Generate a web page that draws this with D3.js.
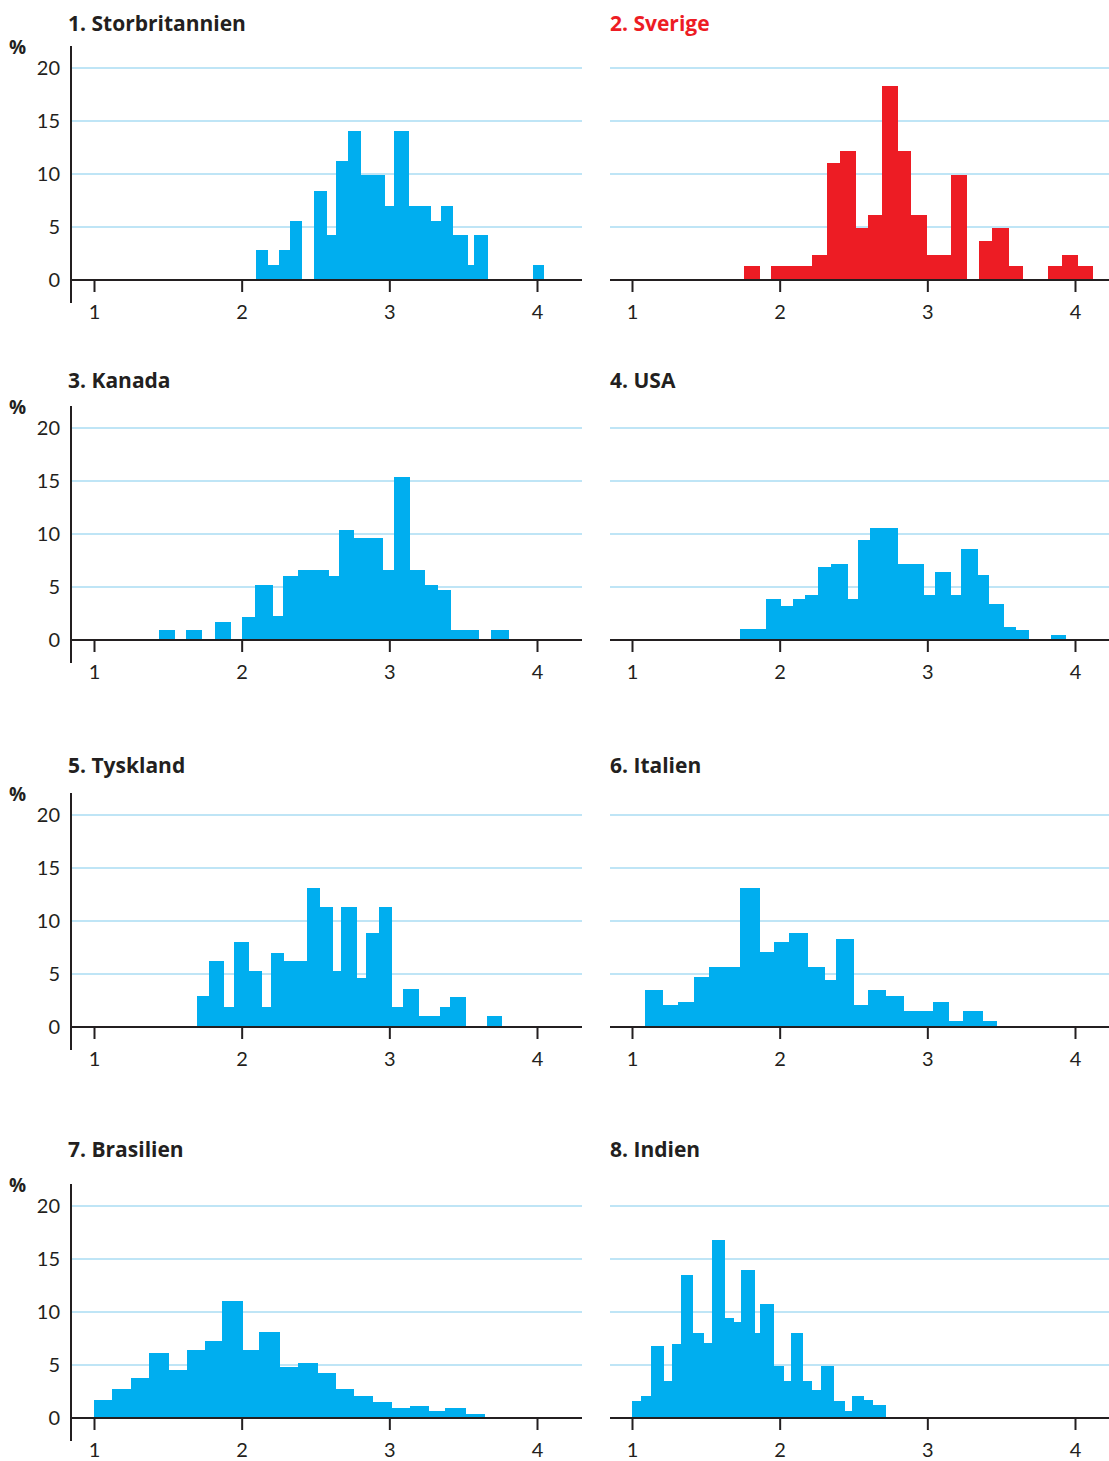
<!DOCTYPE html>
<html>
<head>
<meta charset="utf-8">
<script src="https://cdn.jsdelivr.net/npm/d3@7"></script>
<style>
	body { margin: 0; background: #fff; }
	svg { display: block; font-family: Lato, "Open Sans", sans-serif; }
</style>
</head>
<body>
<svg id="chart" width="1109" height="1461"></svg>
<script>
"use strict";

// each bar: [from, to, percent]
const storbritannien = [
	[2.10, 2.18, 2.8], [2.18, 2.25, 1.4], [2.25, 2.33, 2.8], [2.33, 2.41, 5.6],
	[2.49, 2.58, 8.4], [2.58, 2.64, 4.2], [2.64, 2.72, 11.2], [2.72, 2.81, 14.1],
	[2.81, 2.97, 9.9], [2.97, 3.03, 7.0], [3.03, 3.13, 14.1], [3.13, 3.28, 7.0],
	[3.28, 3.35, 5.6], [3.35, 3.43, 7.0], [3.43, 3.53, 4.2], [3.53, 3.57, 1.4],
	[3.57, 3.67, 4.2], [3.97, 4.05, 1.4],
];
const sverige = [
	[1.76, 1.87, 1.3], [1.94, 2.22, 1.3], [2.22, 2.32, 2.4], [2.32, 2.41, 11.0],
	[2.41, 2.52, 12.2], [2.52, 2.60, 4.9], [2.60, 2.69, 6.1], [2.69, 2.80, 18.3],
	[2.80, 2.89, 12.2], [2.89, 3.00, 6.1], [3.00, 3.16, 2.4], [3.16, 3.27, 9.9],
	[3.35, 3.44, 3.7], [3.44, 3.55, 4.9], [3.55, 3.65, 1.3], [3.82, 3.91, 1.3],
	[3.91, 4.02, 2.4], [4.02, 4.12, 1.3],
];
const kanada = [
	[1.44, 1.55, 0.9], [1.62, 1.73, 0.9], [1.82, 1.93, 1.7], [2.00, 2.09, 2.2],
	[2.09, 2.21, 5.2], [2.21, 2.28, 2.3], [2.28, 2.38, 6.0], [2.38, 2.59, 6.6],
	[2.59, 2.66, 6.0], [2.66, 2.76, 10.4], [2.76, 2.96, 9.6], [2.96, 3.03, 6.6],
	[3.03, 3.14, 15.4], [3.14, 3.24, 6.6], [3.24, 3.33, 5.2], [3.33, 3.42, 4.7],
	[3.42, 3.61, 0.9], [3.69, 3.81, 0.9],
];
const usa = [
	[1.73, 1.91, 1.0], [1.91, 2.01, 3.9], [2.01, 2.09, 3.2], [2.09, 2.17, 3.9],
	[2.17, 2.26, 4.2], [2.26, 2.35, 6.9], [2.35, 2.46, 7.2], [2.46, 2.53, 3.9],
	[2.53, 2.61, 9.4], [2.61, 2.80, 10.6], [2.80, 2.98, 7.2], [2.98, 3.05, 4.2],
	[3.05, 3.16, 6.4], [3.16, 3.23, 4.2], [3.23, 3.34, 8.6], [3.34, 3.42, 6.1],
	[3.42, 3.52, 3.4], [3.52, 3.60, 1.2], [3.60, 3.69, 0.9], [3.84, 3.94, 0.5],
];
const tyskland = [
	[1.70, 1.78, 2.9], [1.78, 1.88, 6.2], [1.88, 1.95, 1.9], [1.95, 2.05, 8.0],
	[2.05, 2.14, 5.3], [2.14, 2.20, 1.9], [2.20, 2.29, 7.0], [2.29, 2.44, 6.2],
	[2.44, 2.53, 13.1], [2.53, 2.62, 11.3], [2.62, 2.67, 5.3], [2.67, 2.78, 11.3],
	[2.78, 2.84, 4.6], [2.84, 2.93, 8.9], [2.93, 3.02, 11.3], [3.02, 3.09, 1.9],
	[3.09, 3.20, 3.6], [3.20, 3.34, 1.0], [3.34, 3.41, 1.9], [3.41, 3.52, 2.8],
	[3.66, 3.76, 1.0],
];
const italien = [
	[1.09, 1.21, 3.5], [1.21, 1.31, 2.1], [1.31, 1.42, 2.4], [1.42, 1.52, 4.7],
	[1.52, 1.73, 5.7], [1.73, 1.87, 13.1], [1.87, 1.96, 7.1], [1.96, 2.06, 8.0],
	[2.06, 2.19, 8.9], [2.19, 2.31, 5.7], [2.31, 2.38, 4.4], [2.38, 2.50, 8.3],
	[2.50, 2.60, 2.1], [2.60, 2.72, 3.5], [2.72, 2.84, 2.9], [2.84, 3.04, 1.5],
	[3.04, 3.15, 2.4], [3.15, 3.24, 0.6], [3.24, 3.38, 1.5], [3.38, 3.47, 0.6],
];
const brasilien = [
	[1.00, 1.12, 1.7], [1.12, 1.25, 2.7], [1.25, 1.37, 3.8], [1.37, 1.51, 6.1],
	[1.51, 1.63, 4.5], [1.63, 1.75, 6.4], [1.75, 1.87, 7.3], [1.87, 2.01, 11.0],
	[2.01, 2.12, 6.4], [2.12, 2.26, 8.1], [2.26, 2.38, 4.8], [2.38, 2.52, 5.2],
	[2.52, 2.64, 4.2], [2.64, 2.76, 2.7], [2.76, 2.89, 2.1], [2.89, 3.02, 1.5],
	[3.02, 3.14, 0.9], [3.14, 3.27, 1.1], [3.27, 3.38, 0.7], [3.38, 3.52, 0.9],
	[3.52, 3.65, 0.4],
];
const indien = [
	[1.00, 1.06, 1.6], [1.06, 1.13, 2.1], [1.13, 1.22, 6.8], [1.22, 1.27, 3.5],
	[1.27, 1.33, 7.0], [1.33, 1.41, 13.5], [1.41, 1.49, 8.0], [1.49, 1.54, 7.1],
	[1.54, 1.63, 16.8], [1.63, 1.69, 9.4], [1.69, 1.74, 9.1], [1.74, 1.83, 14.0],
	[1.83, 1.87, 8.0], [1.87, 1.96, 10.8], [1.96, 2.03, 4.9], [2.03, 2.08, 3.5],
	[2.08, 2.16, 8.0], [2.16, 2.22, 3.5], [2.22, 2.28, 2.6], [2.28, 2.37, 4.9],
	[2.37, 2.44, 1.6], [2.44, 2.49, 0.7], [2.49, 2.57, 2.1], [2.57, 2.63, 1.7],
	[2.63, 2.72, 1.2],
];

const titles = [
	"1. Storbritannien", "2. Sverige", "3. Kanada", "4. USA",
	"5. Tyskland", "6. Italien", "7. Brasilien", "8. Indien",
];
const series = [storbritannien, sverige, kanada, usa, tyskland, italien, brasilien, indien];
const xTicks = [1, 2, 3, 4];
const yTicks = [0, 5, 10, 15, 20];
const gridTicks = [5, 10, 15, 20];

const blue = "#00aeef";
const red = "#ed1c24";
const ink = "#231f20";
const gridColor = "#bfe5f6";
const labelFont = "Lato, 'Open Sans', sans-serif";
const titleFont = "'Open Sans', Lato, sans-serif";

// layout
const cols = [
	{ range: [94, 537], left: 71, right: 582, yAxis: true, titleX: 68 },
	{ range: [632, 1075], left: 610, right: 1109, yAxis: false, titleX: 610 },
];
const rowTop = [68, 428, 815, 1206];
const rowTitle = [31, 388, 773, 1157];
const plotH = 212;

const svg = d3.select("#chart");

function draw(i) {
	const col = cols[i % 2];
	const top = rowTop[Math.floor(i / 2)];
	const highlight = i === 1; // Sverige in red
	const color = highlight ? red : blue;

	const x = d3.scaleLinear().domain([1, 4]).range(col.range);
	const y = d3.scaleLinear().domain([0, 20]).range([top + plotH, top]);

	const g = svg.append("g");

	// title
	g.append("text")
		.attr("x", col.titleX)
		.attr("y", rowTitle[Math.floor(i / 2)])
		.attr("font-family", titleFont)
		.attr("font-size", 21)
		.attr("font-weight", "bold")
		.attr("fill", highlight ? red : ink)
		.text(titles[i]);

	// grid
	g.selectAll(".grid")
		.data(gridTicks)
		.enter()
		.append("line")
		.attr("x1", col.left)
		.attr("x2", col.right)
		.attr("y1", (d) => y(d))
		.attr("y2", (d) => y(d))
		.attr("stroke", gridColor)
		.attr("stroke-width", 2);

	// bars
	g.selectAll(".bar")
		.data(series[i])
		.enter()
		.append("rect")
		.attr("x", (d) => x(d[0]))
		.attr("width", (d) => x(d[1]) - x(d[0]))
		.attr("y", (d) => y(d[2]))
		.attr("height", (d) => y(0) - y(d[2]))
		.attr("fill", color)
		.attr("shape-rendering", "crispEdges");

	// baseline
	g.append("line")
		.attr("x1", col.left)
		.attr("x2", col.right)
		.attr("y1", y(0))
		.attr("y2", y(0))
		.attr("stroke", ink)
		.attr("stroke-width", 2);

	const xAxis = g
		.append("g")
		.attr("transform", `translate(0, ${y(0)})`)
		.call(
			d3.axisBottom(x)
				.tickValues(xTicks)
				.tickFormat(d3.format("d"))
				.tickSize(12)
				.tickPadding(13)
		);
	xAxis.select(".domain").remove();
	xAxis.selectAll("line").attr("stroke", ink).attr("stroke-width", 2);
	xAxis.selectAll("text")
		.attr("fill", ink)
		.attr("font-size", 20)
		.attr("font-family", labelFont);

	if (col.yAxis) {
		g.append("line")
			.attr("x1", col.left)
			.attr("x2", col.left)
			.attr("y1", top - 22)
			.attr("y2", y(0) + 23)
			.attr("stroke", ink)
			.attr("stroke-width", 2);

		const yAxis = g
			.append("g")
			.attr("transform", `translate(${col.left}, 0)`)
			.call(d3.axisLeft(y).tickValues(yTicks).tickSize(0).tickPadding(11));
		yAxis.select(".domain").remove();
		yAxis.selectAll("text")
			.attr("fill", ink)
			.attr("font-size", 20)
			.attr("font-family", labelFont);

		g.append("text")
			.attr("x", 9)
			.attr("y", top - 14)
			.attr("font-family", titleFont)
			.attr("font-size", 19)
			.attr("font-weight", "bold")
			.attr("fill", ink)
			.text("%");
	}
}

titles.forEach((t, i) => draw(i));
</script>
</body>
</html>
